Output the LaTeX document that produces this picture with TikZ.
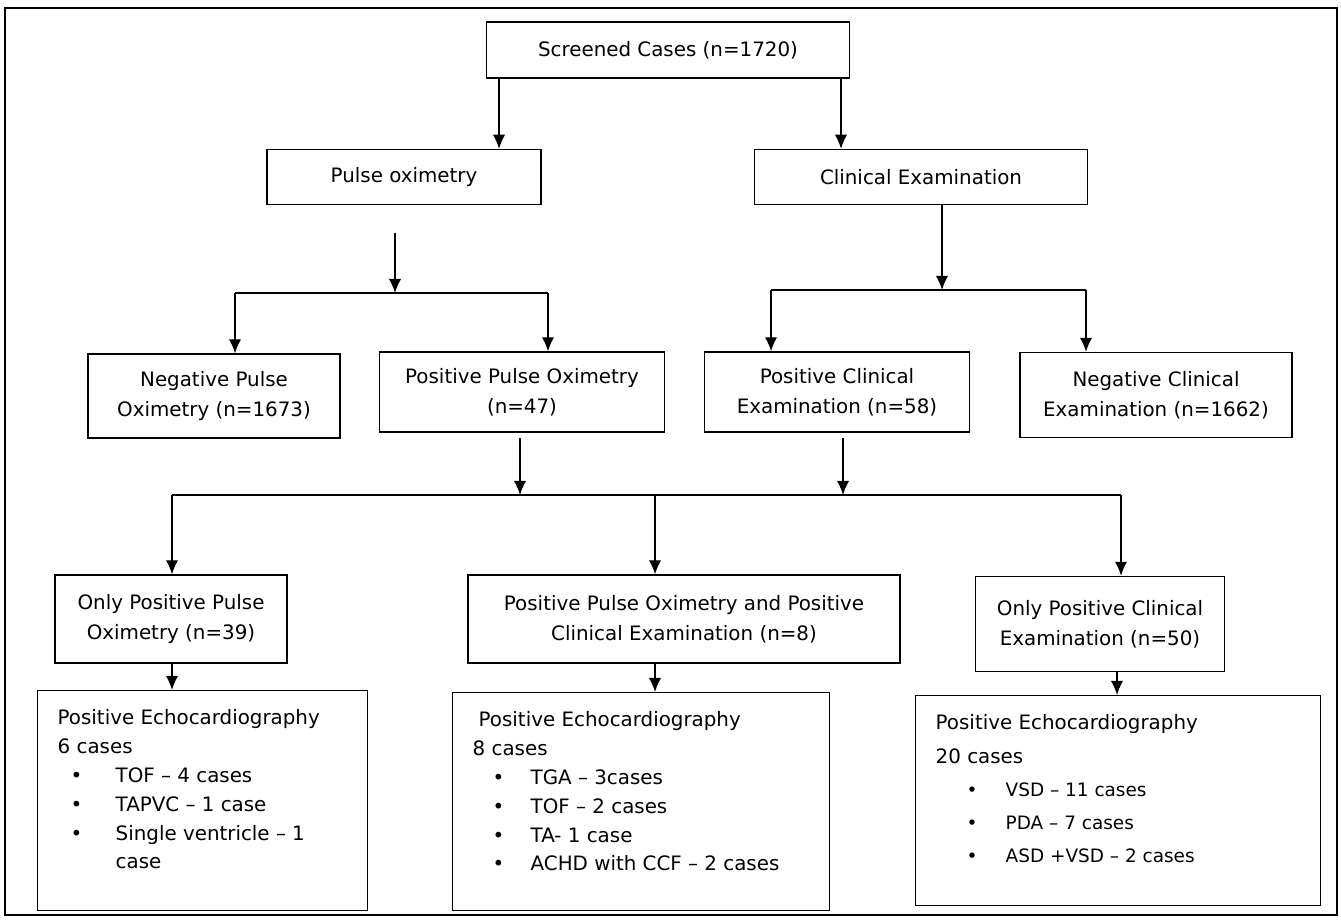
\documentclass[tikz,border=0pt]{standalone}
\usepackage{fontspec}
\setmainfont{DejaVu Sans}
\usetikzlibrary{arrows.meta}
\newcommand{\echoitem}[3]{\hspace*{#1}\makebox[#2][l]{\textbullet}#3}

\begin{document}
\begin{tikzpicture}[
                        x=0.02cm, y=-0.02cm,
                        >={Latex[length=8pt,width=7pt]},
                        line width=0.8pt,
                        font=\fontsize{11.3}{16.8}\selectfont,
                        block/.style={rectangle, draw, align=center, inner sep=2pt},
                        boxsize/.style 2 args={minimum width=#1*0.02cm, minimum height=#2*0.02cm},
                        echo/.style={rectangle, draw, inner xsep=0.4cm, inner ysep=0.38cm}
                    ]
                    \useasboundingbox (0,0) rectangle (1341,920);
                    \draw [line width=1.4pt] (5,8) rectangle (1337,915);

                    % Blocks
                    \node [block, boxsize={363}{56}] (scr) at (668,50) {Screened Cases (n=1720)};
                    \node [block, boxsize={274}{55}] (pulse) at (404,177) {Pulse oximetry};
                    \node [block, boxsize={333}{55}] (clin) at (921,177) {Clinical Examination};
                    \node [block, boxsize={252}{84}] (negP) at (214,396) {Negative Pulse\\Oximetry (n=1673)};
                    \node [block, boxsize={285}{80}] (posP) at (522,392) {Positive Pulse Oximetry\\(n=47)};
                    \node [block, boxsize={265}{80}] (posC) at (837,392) {Positive Clinical\\Examination (n=58)};
                    \node [block, boxsize={272}{85}] (negC) at (1156,395) {Negative Clinical\\Examination (n=1662)};
                    \node [block, boxsize={232}{88}] (onlyP) at (171,619) {Only Positive Pulse\\Oximetry (n=39)};
                    \node [block, boxsize={432}{88}] (both) at (684,619) {Positive Pulse Oximetry and Positive\\Clinical Examination (n=8)};
                    \node [block, boxsize={249}{95}] (onlyC) at (1100,624) {Only Positive Clinical\\Examination (n=50)};

                    \node [echo, anchor=north west] (echoA) at (37,690) {\parbox[t][3.64cm][t]{5.8cm}{%
                        \fontsize{11.3}{16.4}\selectfont
                        Positive Echocardiography\\
                        6 cases\\
                        \echoitem{0.26cm}{0.9cm}{TOF – 4 cases}\\
                        \echoitem{0.26cm}{0.9cm}{TAPVC – 1 case}\\
                        \echoitem{0.26cm}{0.9cm}{Single ventricle – 1}\\
                        \hspace*{1.16cm}case}};
                    \node [echo, anchor=north west] (echoB) at (452,692) {\parbox[t][3.60cm][t]{6.74cm}{%
                        \fontsize{11.3}{16.4}\selectfont
                        \hspace*{0.12cm}Positive Echocardiography\\
                        8 cases\\
                        \echoitem{0.40cm}{0.76cm}{TGA – 3cases}\\
                        \echoitem{0.40cm}{0.76cm}{TOF – 2 cases}\\
                        \echoitem{0.40cm}{0.76cm}{TA- 1 case}\\
                        \echoitem{0.40cm}{0.76cm}{ACHD with CCF – 2 cases}}};
                    \node [echo, anchor=north west] (echoC) at (915,695) {\parbox[t][3.44cm][t]{7.3cm}{%
                        \fontsize{11.3}{18.9}\selectfont
                        Positive Echocardiography\\
                        20 cases\\
                        {\fontsize{10.5}{18.9}\selectfont
                        \echoitem{0.62cm}{0.78cm}{VSD – 11 cases}\\
                        \echoitem{0.62cm}{0.78cm}{PDA – 7 cases}\\
                        \echoitem{0.62cm}{0.78cm}{ASD +VSD – 2 cases}}}};

                    % Connections
                    \coordinate (scrL) at (499,0);
                    \coordinate (scrR) at (841,0);
                    \draw [->] (scrL |- scr.south) -- (scrL |- pulse.north);
                    \draw [->] (scrR |- scr.south) -- (scrR |- clin.north);

                    \coordinate (pulseOut) at (395,233);
                    \coordinate (pulseSplit) at (395,293);
                    \coordinate (pulseL) at (235,293);
                    \coordinate (pulseR) at (548,293);
                    \draw [->] (pulseOut) -- (pulseSplit);
                    \draw (pulseL) -- (pulseR);
                    \draw [->] (pulseL) -- (pulseL |- negP.north);
                    \draw [->] (pulseR) -- (pulseR |- posP.north);

                    \coordinate (clinSplit) at (942,290);
                    \coordinate (clinL) at (771,290);
                    \coordinate (clinR) at (1086,290);
                    \draw [->] (clinSplit |- clin.south) -- (clinSplit);
                    \draw (clinL) -- (clinR);
                    \draw [->] (clinL) -- (clinL |- posC.north);
                    \draw [->] (clinR) -- (clinR |- negC.north);

                    \coordinate (posPin) at (520,495);
                    \coordinate (posCin) at (843,495);
                    \coordinate (midL) at (172,495);
                    \coordinate (midM) at (655,495);
                    \coordinate (midR) at (1121,495);
                    \draw [->, shorten <=3pt] (posPin |- posP.south) -- (posPin);
                    \draw [->, shorten <=3pt] (posCin |- posC.south) -- (posCin);
                    \draw (midL) -- (midR);
                    \draw [->] (midL) -- (midL |- onlyP.north);
                    \draw [->] (midM) -- (midM |- both.north);
                    \draw [->] (midR) -- (midR |- onlyC.north);

                    \coordinate (echoCin) at (1117,0);
                    \draw [->] (midL |- onlyP.south) -- (midL |- echoA.north);
                    \draw [->] (midM |- both.south) -- (midM |- echoB.north);
                    \draw [->] (echoCin |- onlyC.south) -- (echoCin |- echoC.north);
                \end{tikzpicture}
\end{document}
